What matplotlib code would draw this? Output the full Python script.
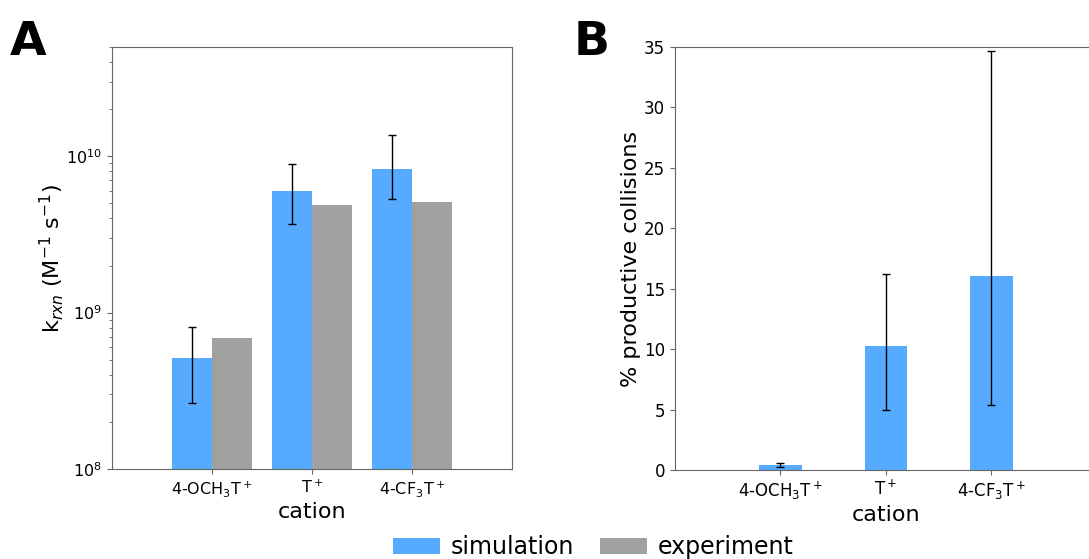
import numpy as np
import matplotlib.pyplot as plt

cations = [r'4-OCH$_3$T$^+$', r'T$^+$', r'4-CF$_3$T$^+$']

# panel A: rate constants (M^-1 s^-1)
k_sim = [5.1e8, 6.0e9, 8.3e9]
k_sim_lo = [2.65e8, 3.7e9, 5.3e9]
k_sim_hi = [8.1e8, 8.9e9, 1.36e10]
k_exp = [6.9e8, 4.9e9, 5.1e9]

# panel B: % productive collisions
pc = [0.4, 10.24, 16.06]
pc_lo = [0.24, 4.94, 5.38]
pc_hi = [0.56, 16.2, 34.65]

blue = '#56aaff'
gray = '#a0a0a0'
plt.rcParams['axes.edgecolor'] = '#666666'
plt.rcParams['xtick.color'] = '#666666'
plt.rcParams['ytick.color'] = '#666666'
plt.rcParams['xtick.labelcolor'] = 'black'
plt.rcParams['ytick.labelcolor'] = 'black'

fig = plt.figure(figsize=(10.89, 5.59), dpi=100)

# ---- A
axA = fig.add_axes([0.1028, 0.161, 0.3673, 0.755])
x = np.arange(len(cations))
w = 0.4
err_a = [np.array(k_sim) - np.array(k_sim_lo), np.array(k_sim_hi) - np.array(k_sim)]
axA.bar(x - w/2, k_sim, w, color=blue, label='simulation',
        yerr=err_a, capsize=3, error_kw=dict(ecolor='black', elinewidth=1))
axA.bar(x + w/2, k_exp, w, color=gray, label='experiment')
axA.set_yscale('log')
axA.set_ylim(1e8, 5e10)
axA.set_xlim(-1, 3)
axA.set_xticks(x)
axA.set_xticklabels(cations)
axA.tick_params(labelsize=11.5)
axA.set_xlabel('cation', fontsize=16, labelpad=2)
axA.set_ylabel(r'k$_{rxn}$ (M$^{-1}$ s$^{-1}$)', fontsize=16, labelpad=0)

# ---- B
axB = fig.add_axes([0.6198, 0.1592, 0.3875, 0.7567])
err_b = [np.array(pc) - np.array(pc_lo), np.array(pc_hi) - np.array(pc)]
axB.bar(x, pc, w, color=blue, yerr=err_b, capsize=3,
        error_kw=dict(ecolor='black', elinewidth=1))
axB.set_ylim(0, 35)
axB.set_xlim(-1, 3)
axB.set_xticks(x)
axB.set_xticklabels(cations)
axB.tick_params(labelsize=12)
axB.set_xlabel('cation', fontsize=16, labelpad=2)
axB.set_ylabel('% productive collisions', fontsize=16, labelpad=2)

fig.text(0.009, 1 - 55/559, 'A', fontsize=34, weight='bold', va='baseline')
fig.text(0.527, 1 - 55/559, 'B', fontsize=34, weight='bold', va='baseline')

handles, labels = axA.get_legend_handles_labels()
fig.legend(handles, labels, loc='center', bbox_to_anchor=(0.5445, 0.021),
           ncol=2, frameon=False, fontsize=17, handletextpad=0.45,
           columnspacing=1.1)

fig.savefig('out.png', dpi=100)
